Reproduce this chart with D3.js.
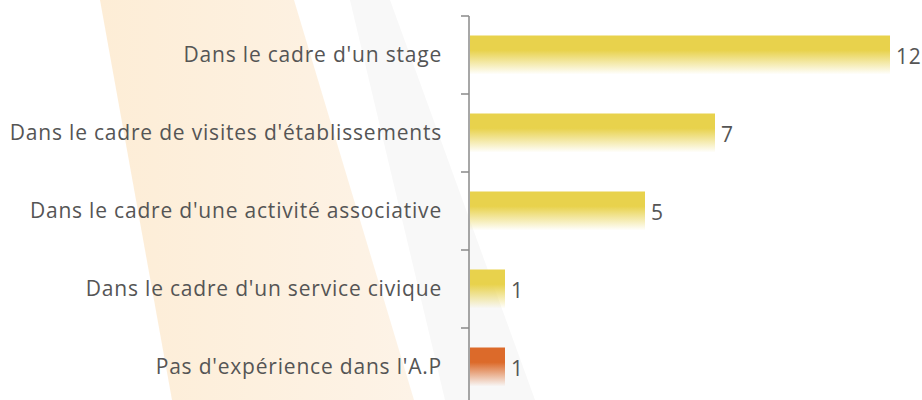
<!DOCTYPE html>
<html>
<head>
<meta charset="utf-8">
<script src="https://cdn.jsdelivr.net/npm/d3@7/dist/d3.min.js"></script>
<style>
  html, body { margin: 0; padding: 0; background: #fff; }
  svg { display: block; }
  text { font-family: "Open Sans", "Noto Sans", sans-serif; }
</style>
</head>
<body>
<svg id="chart" width="922" height="400"></svg>
<script>
const categories = [
  "Dans le cadre d'un stage",
  "Dans le cadre de visites d'établissements",
  "Dans le cadre d'une activité associative",
  "Dans le cadre d'un service civique",
  "Pas d'expérience dans l'A.P"
];
const values = [12, 7, 5, 1, 1];
const colors = ["#e8d24c", "#e8d24c", "#e8d24c", "#e8d24c", "#dc6a2a"];

const W = 922, H = 400;
const svg = d3.select("#chart");
const defs = svg.append("defs");

// background decorative stripes
const og = defs.append("linearGradient").attr("id", "og")
  .attr("x1", 0).attr("y1", 0).attr("x2", 1).attr("y2", 0);
og.append("stop").attr("offset", "0%").attr("stop-color", "#fdedd6");
og.append("stop").attr("offset", "100%").attr("stop-color", "#fdf3e7");
svg.append("polygon")
  .attr("points", "100,0 294,0 414,400 172,400")
  .attr("fill", "url(#og)");
svg.append("polygon")
  .attr("points", "350,0 390,0 535,400 445,400")
  .attr("fill", "#f8f8f8");

const x = d3.scaleLinear().domain([0, 12]).range([470, 890]);
const y = d3.scaleBand().domain(categories).range([16, 406])
  .paddingInner(0.5).paddingOuter(0.25);

// gradients for bars
colors.forEach((c, i) => {
  const g = defs.append("linearGradient").attr("id", "bg" + i)
    .attr("x1", 0).attr("y1", 0).attr("x2", 0).attr("y2", 1);
  g.append("stop").attr("offset", "0%").attr("stop-color", c).attr("stop-opacity", 1);
  g.append("stop").attr("offset", "38%").attr("stop-color", c).attr("stop-opacity", 1);
  g.append("stop").attr("offset", "100%").attr("stop-color", c).attr("stop-opacity", 0);
});

// bars
svg.selectAll("rect.bar").data(categories).join("rect")
  .attr("class", "bar")
  .attr("x", x(0))
  .attr("y", d => y(d))
  .attr("width", (d, i) => x(values[i]) - x(0))
  .attr("height", y.bandwidth())
  .attr("fill", (d, i) => `url(#bg${i})`);

// axis line and ticks at band boundaries
const axisColor = "#8a8a8a";
svg.append("line")
  .attr("x1", 469).attr("x2", 469)
  .attr("y1", 16).attr("y2", 400)
  .attr("stroke", axisColor).attr("stroke-width", 1.5);
const boundaries = categories.map(c => y(c) - y.step() * y.paddingOuter());
svg.selectAll("line.tick").data(boundaries).join("line")
  .attr("class", "tick")
  .attr("x1", 461).attr("x2", 469)
  .attr("y1", d => d).attr("y2", d => d)
  .attr("stroke", axisColor).attr("stroke-width", 1.5);

// category labels
svg.selectAll("text.cat").data(categories).join("text")
  .attr("class", "cat")
  .attr("x", 442)
  .attr("y", d => y(d) + y.bandwidth() / 2)
  .attr("dy", "0.35em")
  .attr("text-anchor", "end")
  .attr("font-size", 21)
  .attr("letter-spacing", "0.8px")
  .attr("fill", "#555")
  .text(d => d);

// value labels
svg.selectAll("text.val").data(categories).join("text")
  .attr("class", "val")
  .attr("x", (d, i) => x(values[i]) + 6)
  .attr("y", d => y(d) + y.bandwidth() / 2 + 2)
  .attr("dy", "0.35em")
  .attr("font-size", 21)
  .attr("letter-spacing", "0.8px")
  .attr("fill", "#555")
  .text((d, i) => values[i]);
</script>
</body>
</html>
